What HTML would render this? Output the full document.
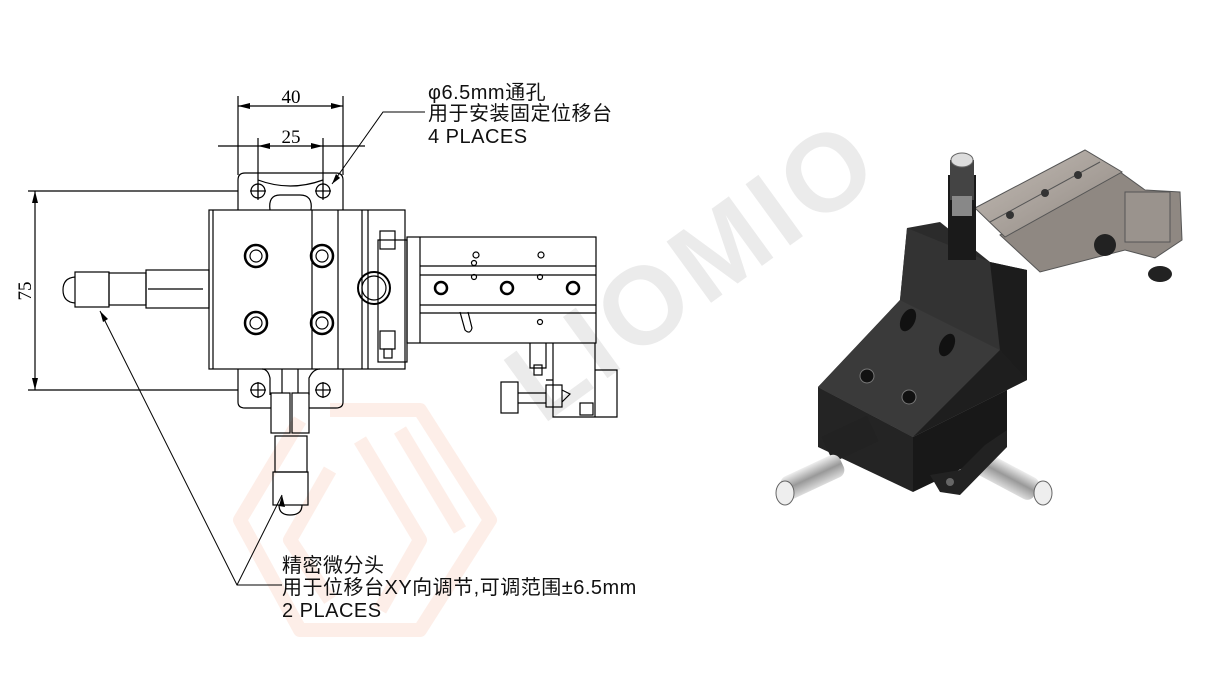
<!DOCTYPE html>
<html><head><meta charset="utf-8"><style>
html,body{margin:0;padding:0;background:#fff;}
svg{display:block}
.s{font-family:"Liberation Sans","Noto Sans CJK SC",sans-serif;}
.f{font-family:"Liberation Serif",serif;}
</style></head><body>
<svg width="1218" height="685" viewBox="0 0 1218 685" xmlns="http://www.w3.org/2000/svg">
<defs>
<linearGradient id="sil" x1="0" y1="0" x2="0" y2="1"><stop offset="0" stop-color="#eee"/><stop offset="0.5" stop-color="#999"/><stop offset="1" stop-color="#ddd"/></linearGradient>
<linearGradient id="rail" x1="0" y1="0" x2="1" y2="1"><stop offset="0" stop-color="#c4bdb6"/><stop offset="1" stop-color="#8f8781"/></linearGradient>
</defs>
<g fill="none" stroke="#fdeee8" stroke-width="14" stroke-linejoin="round">
<polyline points="300,420 240,520 300,630 420,630 490,520 420,410 330,410"/>
<polyline points="330,470 290,540 330,600"/>
<polyline points="360,440 420,540 380,610"/>
<polyline points="400,430 460,530"/>
</g>
<text class="s" x="0" y="0" transform="translate(715,300) rotate(-36)" text-anchor="middle" font-size="110" font-weight="bold" fill="#ebebeb" style="letter-spacing:6px">LIOMIO</text>

<g fill="none" stroke="#000" stroke-width="1.2">
<line x1="238" y1="96" x2="238" y2="175"/><line x1="343" y1="96" x2="343" y2="175"/>
<line x1="238" y1="106" x2="343" y2="106"/>
<line x1="258" y1="138" x2="258" y2="200"/><line x1="323" y1="138" x2="323" y2="200"/>
<line x1="218" y1="146" x2="365" y2="146"/>
<line x1="28" y1="191" x2="238" y2="191"/><line x1="28" y1="390" x2="238" y2="390"/>
<line x1="35" y1="191" x2="35" y2="390"/>
<path d="M238,210 V180 Q238,173 245,173 H336 Q343,173 343,180 V210"/>
<path d="M270,210 Q268,195 280,195 H300 Q313,195 311,210"/>
<path d="M258,180 Q290,192 323,180"/>
<circle cx="258" cy="191" r="7"/><circle cx="323" cy="191" r="7"/>
<line x1="250" y1="191" x2="266" y2="191"/><line x1="258" y1="183" x2="258" y2="199"/>
<line x1="315" y1="191" x2="331" y2="191"/><line x1="323" y1="183" x2="323" y2="199"/>
<path d="M238,369 V402 Q238,408 245,408 H271"/><path d="M309,408 H336 Q343,408 343,402 V369"/>
<path d="M270,395 V378 Q268,369 262,369"/><path d="M309,395 V378 Q313,369 320,369"/>
<circle cx="258" cy="390" r="7"/><circle cx="323" cy="390" r="7"/>
<line x1="250" y1="390" x2="266" y2="390"/><line x1="258" y1="382" x2="258" y2="398"/>
<line x1="315" y1="390" x2="331" y2="390"/><line x1="323" y1="382" x2="323" y2="398"/>
<rect x="209" y="210" width="196" height="159"/>
<line x1="213" y1="210" x2="213" y2="369"/><line x1="312" y1="210" x2="312" y2="369"/>
<line x1="338" y1="210" x2="338" y2="369"/><line x1="362" y1="210" x2="362" y2="369"/><line x1="368" y1="210" x2="368" y2="369"/>
<g stroke-width="2.5"><circle cx="256" cy="256" r="11"/><circle cx="322" cy="256" r="11"/><circle cx="256" cy="323" r="11"/><circle cx="322" cy="323" r="11"/></g>
<circle cx="256" cy="256" r="6"/><circle cx="322" cy="256" r="6"/><circle cx="256" cy="323" r="6"/><circle cx="322" cy="323" r="6"/>
<rect x="146" y="270" width="63" height="38"/>
<line x1="148" y1="289" x2="203" y2="289"/>
<rect x="109" y="273" width="37" height="32"/>
<rect x="75" y="272" width="34" height="35"/>
<path d="M75,277 Q63,278 63,290 Q63,302 75,303"/>
<line x1="282" y1="369" x2="282" y2="393"/><line x1="298" y1="369" x2="298" y2="393"/>
<rect x="271" y="393" width="19" height="40"/><rect x="292" y="393" width="17" height="40"/>
<rect x="275" y="436" width="32" height="36"/>
<rect x="273" y="472" width="35" height="33"/>
<path d="M279,505 Q279,515 290,515 Q302,515 302,505"/>
<rect x="378" y="240" width="29" height="122"/>
<rect x="380" y="231" width="15" height="18"/><rect x="380" y="331" width="15" height="18"/><rect x="384" y="349" width="8" height="9"/>
<rect x="407" y="237" width="189" height="106"/>
<line x1="420" y1="237" x2="420" y2="343"/>
<line x1="420" y1="266" x2="596" y2="266"/><line x1="420" y1="275" x2="596" y2="275"/>
<line x1="420" y1="305" x2="596" y2="305"/><line x1="420" y1="313" x2="596" y2="313"/>
<circle cx="474" cy="277" r="2.5"/><circle cx="540" cy="277" r="2.5"/><circle cx="540" cy="322" r="2.5"/><circle cx="474" cy="263" r="2.5"/>
<circle cx="541" cy="255" r="3"/><circle cx="476" cy="255" r="3"/>
<g stroke-width="2.5"><circle cx="441" cy="288" r="6"/><circle cx="507" cy="288" r="6"/><circle cx="573" cy="288" r="6"/></g>
<circle cx="374" cy="288" r="16" stroke-width="2"/><circle cx="374" cy="288" r="12"/>
<path d="M460,312 L465,330 Q470,335 472,328 L468,312"/>
<path d="M530,343 V368 H546 V343"/><path d="M546,380 H553 V343 M553,380 V417 H595 V343 M595,370 H617 V417 H595"/>
<rect x="534" y="365" width="8" height="10"/>
<rect x="501" y="382" width="17" height="31"/>
<line x1="518" y1="393" x2="546" y2="393"/><line x1="518" y1="403" x2="546" y2="403"/>
<rect x="546" y="385" width="16" height="22"/>
<path d="M562,390 L570,394 L562,402"/>
<rect x="580" y="403" width="13" height="12"/>
</g>
<g fill="#000">
<polygon points="238,106 250,103 250,109"/><polygon points="343,106 331,103 331,109"/>
<polygon points="258,146 270,143 270,149"/><polygon points="323,146 311,143 311,149"/>
<polygon points="35,191 32,203 38,203"/><polygon points="35,390 32,378 38,378"/>
<polygon points="100,311 103,322 108,319"/><polygon points="282,495 279,506 285,507"/>
<polygon points="332,184 336,174 340,178"/>
</g>
<g fill="none" stroke="#000" stroke-width="1">
<polyline points="100,311 237,585 282,585"/><line x1="282" y1="495" x2="237" y2="585"/>
<polyline points="332,184 383,112 425,112"/>
</g>
<text class="f" x="291" y="103" font-size="19" text-anchor="middle">40</text>
<text class="f" x="291" y="143" font-size="19" text-anchor="middle">25</text>
<text class="f" transform="translate(31,291) rotate(-90)" font-size="19" text-anchor="middle">75</text>
<g class="s" font-size="20" fill="#111" style="letter-spacing:0.5px">
<text x="428" y="99">φ6.5mm通孔</text>
<text x="428" y="120">用于安装固定位移台</text>
<text x="428" y="143">4 PLACES</text>
<text x="282" y="572">精密微分头</text>
<text x="282" y="594">用于位移台XY向调节,可调范围±6.5mm</text>
<text x="282" y="617">2 PLACES</text>
</g>

<polygon points="1000,235 1120,172 1145,190 1180,192 1182,240 1155,258 1125,250 1040,272" fill="#8f8882" stroke="#555" stroke-width="1"/>
<polygon points="975,208 1085,150 1122,172 1005,237" fill="url(#rail)" stroke="#555" stroke-width="1"/>
<line x1="990" y1="222" x2="1100" y2="162" stroke="#555"/>
<circle cx="1045" cy="193" r="4" fill="#333"/><circle cx="1078" cy="175" r="4" fill="#333"/><circle cx="1010" cy="215" r="4" fill="#333"/>
<rect x="1125" y="192" width="45" height="50" fill="#9a938d" stroke="#555"/>
<circle cx="1105" cy="245" r="11" fill="#222"/><ellipse cx="1160" cy="274" rx="12" ry="8" fill="#222"/>
<polygon points="907,228 940,222 990,262 1027,270 1027,380 913,437 818,387 900,300" fill="#2b2b2b"/>
<polygon points="907,228 990,262 1000,350 900,300" fill="#333"/>
<polygon points="990,262 1027,270 1027,380 1000,350" fill="#1c1c1c"/>
<polygon points="900,300 1000,350 913,437 818,387" fill="#3a3a3a"/>
<polygon points="1000,350 1027,380 913,437" fill="#1e1e1e"/>
<polygon points="818,387 913,437 913,492 818,447" fill="#242424"/>
<polygon points="913,437 1007,390 1007,447 913,492" fill="#181818"/>
<ellipse cx="908" cy="320" rx="7" ry="12" fill="#111" transform="rotate(25 908 320)"/>
<ellipse cx="947" cy="345" rx="7" ry="12" fill="#111" transform="rotate(25 947 345)"/>
<circle cx="867" cy="376" r="7" fill="#111" stroke="#777"/><circle cx="909" cy="397" r="7" fill="#111" stroke="#777"/>
<rect x="948" y="175" width="28" height="85" fill="#1a1a1a"/>
<rect x="950" y="160" width="24" height="40" fill="#444"/>
<rect x="952" y="196" width="20" height="20" fill="#888"/>
<ellipse cx="962" cy="160" rx="11" ry="7" fill="#ddd" stroke="#666"/>
<rect x="825" y="425" width="50" height="28" fill="#222" transform="rotate(-25 850 439)"/>
<rect x="780" y="465" width="65" height="24" rx="8" fill="url(#sil)" transform="rotate(-25 812 477)"/>
<ellipse cx="785" cy="493" rx="9" ry="12" fill="#eee" stroke="#666"/>
<rect x="975" y="465" width="65" height="24" rx="8" fill="url(#sil)" transform="rotate(28 1008 477)"/>
<ellipse cx="1043" cy="493" rx="9" ry="12" fill="#eee" stroke="#666"/>
<polygon points="930,475 960,470 985,445 1007,430 1007,447 960,495 940,492" fill="#222"/>
<circle cx="950" cy="482" r="4" fill="#666"/>
</svg>
</body></html>
